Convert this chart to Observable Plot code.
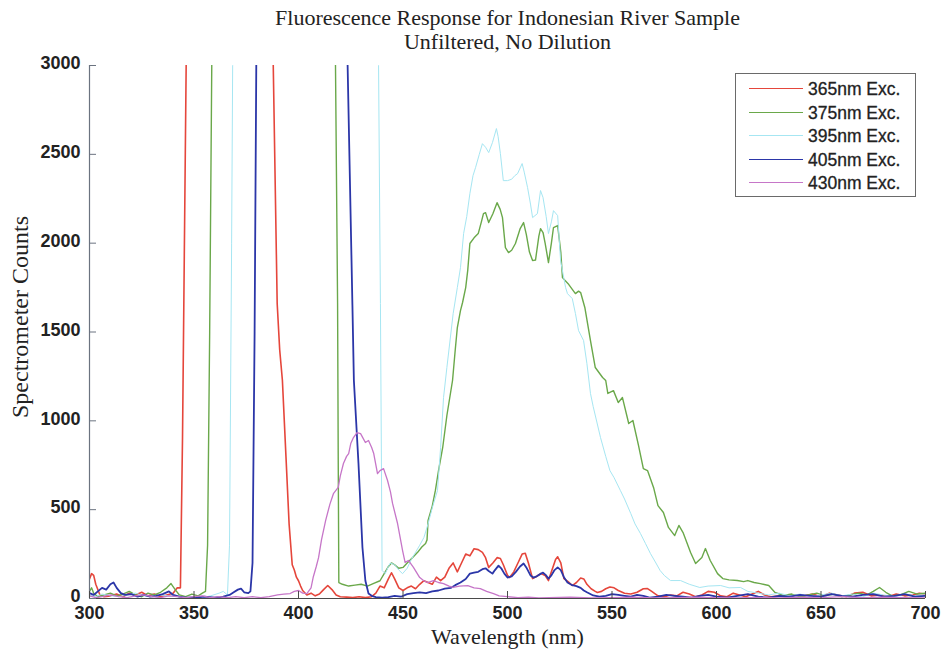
<!DOCTYPE html>
<html><head><meta charset="utf-8">
<script src="https://cdn.jsdelivr.net/npm/d3@7"></script>
<script src="https://cdn.jsdelivr.net/npm/@observablehq/plot@0.6"></script>
<style>
body{margin:0;background:#fff;}
#wrap{position:relative;width:946px;height:655px;overflow:hidden;}
#legend{position:absolute;left:735px;top:73px;width:181px;height:124px;border:1px solid #6a6a6a;background:#fff;box-sizing:border-box;font-family:"Liberation Sans",Arial,sans-serif;font-size:17.5px;color:#222;}
#legend .row{position:absolute;left:0;height:20px;line-height:20px;white-space:nowrap;}
#legend .sw{position:absolute;left:13px;top:9px;width:54px;height:0;border-top:2px solid;}
#legend .lb{position:absolute;left:72px;top:0;-webkit-text-stroke:0.3px #222;}
</style></head><body><div id="wrap"></div>
<script>
// ---- tick labels / titles ----
const xTicks = [300, 350, 400, 450, 500, 550, 600, 650, 700];
const yTicks = [0, 500, 1000, 1500, 2000, 2500, 3000];
const titleLines = ["Fluorescence Response for Indonesian River Sample", "Unfiltered, No Dilution"];
const xLabel = "Wavelength (nm)";
const yLabel = "Spectrometer Counts";
const seriesNames = ["365nm Exc.", "375nm Exc.", "395nm Exc.", "405nm Exc.", "430nm Exc."];
const seriesColors = ["#e5463b", "#6aa84a", "#a6e6f2", "#2b36a8", "#c676c8"];
const seriesWidths = [1.6, 1.4, 1.0, 1.8, 1.3];

// ---- 365 nm excitation ----
const wl365 = [300,301,302,303,305,307,310,313,316,319,322,325,328,331,334,337,340,342,343.5,344.5,345.5,346.5,350,384,387.5,389.8,391,392.3,394,395.5,397,398,399,400,401,402,404,406,408,410,412,414,416,418,420,423,426,429,432,435,437,439,441,443,444.5,446,448,450,452,454,456,458,460,462,464,466,468,470,472,474,476,478,480,482,484,486,488,489.5,491,493,495,496.6,498,500,501,503,505,507,508.5,510,512,514,516,518,519.6,521,523,524,525.5,527,529,531,533,535,536.5,538,540,542,543,545,547,549,551,553,556,559,562,565,567,569,572,575,578,581,584,587,590,593,596,599,602,605,608,611,614,617,620,623,626,630,634,638,642,646,650,654,658,662,666,670,674,678,682,686,690,694,697,700];
const c365 = [110,140,130,80,20,10,15,25,10,30,20,35,15,25,10,20,30,60,60,900,2100,3300,4000,4000,3300,1660,1400,1227,800,420,190,160,120,100,70,45,20,30,15,25,50,73,50,20,10,8,5,10,5,10,30,70,60,110,145,110,60,45,60,70,55,80,100,90,80,120,100,120,170,200,150,200,250,240,280,275,260,230,175,200,230,225,190,130,118,150,200,250,255,200,112,125,140,130,101,150,220,235,200,112,95,73,90,115,110,80,55,40,34,40,55,65,60,45,30,25,35,55,56,40,15,10,20,15,35,25,10,20,40,35,15,10,30,20,10,25,40,20,10,15,10,20,15,25,10,30,20,10,30,35,15,20,10,25,15,20,30,25];

// ---- 375 nm excitation ----
const wl375 = [300,301,302,304,307,310,313,316,319,322,325,328,331,334,337,339,341,343,346,349,352,354,355.5,356.5,357.5,358.5,360,415,417.7,418.7,419,419.3,421,424,427,430,433,436,439,441,443,444.5,446,448,450,452,454.5,457,459,460.8,461.5,462,464,465.5,467,469,471,473.7,475,476,477.5,478.5,480,481,482,484,486,487.5,488.5,489.5,491,493,495,496.5,497.6,499,500.5,502,503.8,506,507.7,509,510.5,512,513.4,515,515.8,517,518,519.6,521,522,524,525.5,526.3,529,531,532.5,534,535,537,539.7,542,545.5,547,548,550.7,553,555,558,560,562.7,565,567,570,572,574.6,577,580,582,584,587.6,590,593,594.7,597,600.5,603,606,610,613,615,618,621,625,628,632,636,640,644,648,652,656,660,664,668,672,675,678,681,684,688,692,696,700];
const c375 = [40,60,30,10,20,30,15,25,40,20,10,30,20,35,60,84,50,20,10,25,15,30,40,300,1500,3000,4000,4000,3000,1660,800,90,80,70,75,80,70,85,100,140,180,200,190,170,175,200,230,260,290,310,330,440,520,608,720,850,1030,1227,1400,1525,1620,1666,1750,1850,1998,2030,2054,2120,2166,2172,2116,2166,2228,2190,2144,1975,1947,1960,1998,2080,2116,2050,1950,1902,1905,2040,2082,2060,2000,1891,2000,2088,2099,1950,1806,1772,1740,1716,1730,1722,1638,1452,1300,1244,1227,1154,1170,1103,1131,985,1002,861,731,720,620,523,484,400,354,411,371,259,197,231,281,214,140,112,105,101,95,101,90,84,73,34,17,25,10,20,30,15,25,10,20,30,20,40,62,35,15,20,40,25,30];

// ---- 395 nm excitation ----
const wl395 = [300,303,306,310,314,318,322,326,330,334,338,342,346,350,354,358,362,364,366,367,368,368.5,370,436,438.3,439.2,440,441.5,443,444,446,448,449.8,452,454,456,458,460,462,464,466.5,468,469.4,471,474,476,477.5,479,480.5,482,483.5,484.7,486.5,488,489.5,491,492.8,494.7,495.5,496.6,498,500,502,503.5,504.8,507,508,509.6,511,512,514.3,515.8,517,518.5,519.6,521,522,524,525.4,527.8,528.7,531,532.5,534,536.4,538,539.7,541,544.5,547,549,551,554,556,559,561,563.6,566,568.4,571,573,575,578,582.8,587,592,596,602,606,611.5,615,620,625,630,635,640,645,650,655,660,665,670,675,680,685,690,695,700];
const c395 = [20,10,25,15,10,20,30,15,10,20,15,10,5,10,5,15,30,40,20,300,2000,3000,4000,4000,3000,1660,158,140,180,200,190,160,140,170,220,260,300,343,420,510,608,850,1131,1300,1604,1750,1862,2054,2150,2279,2380,2425,2500,2560,2540,2510,2566,2645,2600,2504,2352,2352,2360,2380,2391,2448,2400,2313,2220,2144,2166,2296,2257,2150,2054,2120,2183,2155,1902,1750,1716,1688,1604,1508,1452,1322,1154,1080,906,800,720,680,608,560,478,420,366,310,253,200,158,130,101,101,80,62,70,73,60,62,40,30,20,30,15,25,10,20,30,15,25,10,30,20,10,25,15,20];

// ---- 405 nm excitation ----
const wl405 = [300,302,304,306,308,310,311.5,313,315,317,320,323,326,329,332,335,338,340,343,346,350,355,360,364,367,369,371,372.5,374,376,377,378,379,379.8,381,420,423.5,425.8,426.5,428.7,430.6,432,433.5,435,437,440,443,446,449,452,455,458,461,464,467,470,473,475,477.5,480,482,484,486,488,489.5,491,492.8,494,495.7,497,498.5,500,502,504,506,507.7,509,511,512.4,514,516,517,518.5,519.6,521,522.5,524,525.5,527,528.7,531,533,535,536.5,538,541,544,547,550,553,556,559,562,565,568,572,576,580,584,588,592,596,600,605,610,615,620,625,630,635,640,645,650,655,660,665,670,675,680,685,690,695,700];
const c405 = [30,20,40,60,50,80,90,60,30,20,25,10,20,10,15,25,40,20,10,5,5,10,5,10,20,35,50,56,35,30,40,200,1500,3000,4000,4000,3000,1650,1227,760,287,100,28,15,8,5,8,15,10,25,30,35,30,40,45,55,60,75,90,110,140,145,150,165,170,155,140,160,185,170,140,118,125,150,180,197,175,130,118,125,140,146,130,112,130,160,175,160,120,90,75,70,60,45,35,17,10,15,25,20,15,10,20,15,5,10,20,15,10,5,15,20,10,5,15,25,10,5,15,10,20,15,10,25,15,10,20,25,10,15,25,10,15];

// ---- 430 nm excitation ----
const wl430 = [300,303,306,310,314,318,322,326,330,334,338,342,346,350,354,358,362,366,370,374,378,382,386,390,393,396,398,400,402,404,406,407,408.5,409.6,411,413,415,416.7,419,420,421.5,423,424,425,426.3,428,429.7,431,432,433.5,435,436,437.8,439,440.7,442.6,444,445,447.4,449,449.8,451,452.6,455,458,460,461.7,464.6,467,469.4,472,474,477,481,484,487,490,493.3,496,500,505,510,515,520,530,540,550,560,570,580,590,600,610,620,630,640,650,660,670,680,690,700];
const c430 = [15,5,10,20,10,5,15,20,10,5,15,10,5,10,15,5,10,5,10,5,10,5,10,20,25,28,40,45,30,28,60,118,180,230,330,440,530,590,625,690,760,800,816,872,906,934,928,900,878,889,850,816,703,720,731,664,600,535,422,320,270,203,214,175,118,100,90,101,90,84,70,62,70,73,60,56,40,28,15,10,5,8,3,5,8,3,5,8,3,5,8,5,3,6,4,8,5,10,5,8,5,3];

const wls = [wl365, wl375, wl395, wl405, wl430];
const counts = [c365, c375, c395, c405, c430];

const lineMarks = seriesNames.map((name, k) =>
  Plot.line(wls[k].map((w, i) => ({w, c: counts[k][i]})), {
    x: "w", y: "c", stroke: seriesColors[k], strokeWidth: seriesWidths[k], clip: true
  })
);

const serif = "'Liberation Serif', 'Times New Roman', serif";
const plot = Plot.plot({
  width: 946, height: 655,
  marginLeft: 89, marginRight: 21, marginTop: 65, marginBottom: 57,
  x: {domain: [300, 700]},
  y: {domain: [0, 3000]},
  style: {background: "white", color: "#222", overflow: "visible", fontFamily: "'Liberation Sans', Arial, sans-serif"},
  marks: [
    ...lineMarks,
    Plot.ruleY([0], {stroke: "#4a4a4a", strokeWidth: 1.2}),
    Plot.ruleX([300], {stroke: "#6b7380", strokeWidth: 1.2}),
    Plot.axisX({ticks: xTicks, tickSize: -7, tickPadding: 15, tickFormat: d => String(d), label: null, fontSize: 18, fontWeight: "bold", stroke: "#4a4a4a"}),
    Plot.axisY({ticks: yTicks, tickSize: -7, text: null, label: null, stroke: "#6b7380"}),
    Plot.axisY({ticks: yTicks, tickSize: 0, tickPadding: 9, dy: -2, tickFormat: d => String(d), label: null, fontSize: 18, fontWeight: "bold"}),
    Plot.text([titleLines[0]], {frameAnchor: "top", dy: -41, lineAnchor: "bottom", textAnchor: "middle", text: d => d, fontSize: 22, fontFamily: serif, fill: "#222"}),
    Plot.text([titleLines[1]], {frameAnchor: "top", dy: -17, lineAnchor: "bottom", textAnchor: "middle", text: d => d, fontSize: 22, fontFamily: serif, fill: "#222"}),
    Plot.text([xLabel], {frameAnchor: "bottom", dy: 45, lineAnchor: "bottom", textAnchor: "middle", text: d => d, fontSize: 22, fontFamily: serif, fill: "#222"}),
    Plot.text([yLabel], {frameAnchor: "left", dx: -62, dy: -15, rotate: -90, lineAnchor: "bottom", textAnchor: "middle", text: d => d, fontSize: 24, fontFamily: serif, fill: "#222"})
  ]
});
const wrap = document.getElementById("wrap");
wrap.appendChild(plot);

// legend
const lg = document.createElement("div");
lg.id = "legend";
seriesNames.forEach((name, k) => {
  const row = document.createElement("div");
  row.className = "row";
  row.style.top = (5 + k * 23.6) + "px";
  row.style.width = "178px";
  const sw = document.createElement("span");
  sw.className = "sw";
  sw.style.borderTopColor = seriesColors[k];
  sw.style.borderTopWidth = Math.max(1, seriesWidths[k]) + "px";
  const lb = document.createElement("span");
  lb.className = "lb";
  lb.textContent = name;
  row.appendChild(sw); row.appendChild(lb);
  lg.appendChild(row);
});
wrap.appendChild(lg);
</script>
</body></html>
